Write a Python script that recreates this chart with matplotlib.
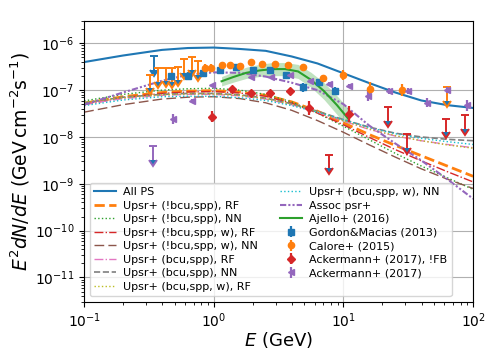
import numpy as np
import matplotlib
matplotlib.use("Agg")
import matplotlib.pyplot as plt
from matplotlib.ticker import LogLocator, NullFormatter

# ---- model curves: log10(E^2 dN/dE) read at log10(E/GeV) grid ----
log_e_grid = [-1.0, -0.7, -0.4, -0.2, 0.0, 0.2, 0.4, 0.6, 0.8, 1.0, 1.2, 1.4, 1.6, 1.8, 2.0]

all_ps        = [-6.40, -6.26, -6.14, -6.10, -6.09, -6.12, -6.16, -6.28, -6.43, -6.64, -6.85, -7.05, -7.22, -7.32, -7.38]
nbcu_rf       = [-7.28, -7.14, -7.05, -7.02, -7.01, -7.04, -7.11, -7.25, -7.45, -7.70, -7.95, -8.18, -8.40, -8.62, -8.84]
nbcu_nn       = [-7.23, -7.09, -7.00, -6.97, -6.96, -7.00, -7.09, -7.25, -7.49, -7.77, -8.06, -8.35, -8.62, -8.87, -9.12]
nbcu_w_rf     = [-7.31, -7.16, -7.07, -7.04, -7.03, -7.06, -7.13, -7.28, -7.49, -7.74, -8.01, -8.27, -8.51, -8.74, -8.96]
nbcu_w_nn     = [-7.47, -7.31, -7.19, -7.15, -7.14, -7.18, -7.27, -7.43, -7.65, -7.90, -8.17, -8.43, -8.68, -8.90, -9.10]
bcu_rf        = [-7.30, -7.18, -7.11, -7.09, -7.09, -7.12, -7.19, -7.31, -7.47, -7.66, -7.84, -7.98, -8.08, -8.16, -8.23]
bcu_nn        = [-7.27, -7.15, -7.09, -7.07, -7.07, -7.10, -7.17, -7.29, -7.45, -7.63, -7.79, -7.92, -8.00, -8.05, -8.08]
bcu_w_rf      = [-7.26, -7.16, -7.10, -7.08, -7.08, -7.11, -7.18, -7.30, -7.46, -7.65, -7.83, -7.97, -8.08, -8.17, -8.24]
bcu_w_nn      = [-7.33, -7.21, -7.14, -7.13, -7.13, -7.16, -7.22, -7.33, -7.47, -7.63, -7.80, -7.93, -8.03, -8.10, -8.16]
assoc_psr     = [-7.31, -7.05, -6.80, -6.67, -6.62, -6.63, -6.71, -6.84, -7.00, -7.30, -7.76, -8.14, -8.50, -8.90, -9.32]

# Ajello+ (2016) line and band
ajello_log_e  = [0.06, 0.15, 0.25, 0.35, 0.45, 0.55, 0.65, 0.75, 0.85, 0.95, 1.04]
ajello_mid    = [-6.81, -6.72, -6.63, -6.58, -6.55, -6.55, -6.60, -6.78, -7.02, -7.32, -7.62]
ajello_halfw  = [0.10, 0.11, 0.12, 0.13, 0.14, 0.14, 0.15, 0.16, 0.18, 0.20, 0.22]

# ---- data points: log10 E, log10 flux, error in dex ----
gordon_log_e  = [-0.33, -0.20, -0.08, 0.05, 0.175, 0.30, 0.433, 0.56, 0.69, 0.81, 0.936]
gordon_log_f  = [-6.69, -6.69, -6.64, -6.58, -6.51, -6.58, -6.56, -6.68, -6.94, -6.83, -7.02]
gordon_err    = [0.06, 0.07, 0.06, 0.05, 0.04, 0.04, 0.04, 0.05, 0.09, 0.06, 0.08]
gordon_ul_e   = [-0.46]
gordon_ul_f   = [-6.27]

calore_log_e  = [-0.07, -0.018, 0.06, 0.124, 0.20, 0.29, 0.37, 0.47, 0.575, 0.69, 0.845, 1.0, 1.205, 1.45]
calore_log_f  = [-6.52, -6.52, -6.47, -6.47, -6.49, -6.40, -6.45, -6.44, -6.46, -6.50, -6.74, -6.68, -6.98, -6.99]
calore_err    = [0.07, 0.07, 0.06, 0.05, 0.05, 0.05, 0.05, 0.05, 0.05, 0.06, 0.07, 0.10, 0.16, 0.13]
calore_ul_e   = [-0.495, -0.43, -0.37, -0.32, -0.275, -0.23, -0.17, -0.12, 1.80]
calore_ul_f   = [-6.67, -6.53, -6.52, -6.53, -6.50, -6.34, -6.29, -6.38, -6.94]

ack_fb_log_e  = [-0.015, 0.137, 0.285, 0.435, 0.588, 0.737, 1.04]
ack_fb_log_f  = [-7.57, -6.97, -7.06, -7.06, -7.02, -7.38, -7.50]
ack_fb_err    = [0.12, 0.04, 0.04, 0.04, 0.04, 0.15, 0.17]
ack_fb_ul_e   = [0.89, 1.34, 1.49, 1.79, 1.94]
ack_fb_ul_f   = [-8.38, -7.37, -7.94, -7.61, -7.53]

ack_log_e     = [-0.315, -0.168, -0.015, 0.285, 0.438, 0.588, 0.74, 0.885, 1.04, 1.19, 1.35, 1.50, 1.645, 1.80, 1.95]
ack_log_f     = [-7.62, -7.23, -6.90, -6.72, -6.72, -6.68, -6.80, -6.86, -6.91, -7.12, -7.02, -7.02, -7.27, -7.00, -7.32]
ack_err       = [0.10, 0.04, 0.04, 0.03, 0.03, 0.03, 0.04, 0.04, 0.05, 0.12, 0.06, 0.06, 0.10, 0.07, 0.12]
ack_ul_e      = [-0.47]
ack_ul_f      = [-8.20]

x_ticks = [0.1, 1, 10, 100]
y_ticks = [1e-11, 1e-10, 1e-9, 1e-8, 1e-7, 1e-6]

UL_ARROW_DEX = 0.29


def p10(v):
    return 10.0 ** np.asarray(v, dtype=float)


def points(ax, le, lf, err, fmt, color, label, ms=4.5):
    e, f, d = p10(le), p10(lf), np.asarray(err)
    yerr = [f - f * 10 ** -d, f * 10 ** d - f]
    ax.errorbar(e, f, yerr=yerr, fmt=fmt, color=color, ms=ms,
                elinewidth=1.6, capsize=0, label=label)


def upper_limits(ax, le, lf, color):
    e, f = p10(le), p10(lf)
    ax.errorbar(e, f, yerr=f * (1 - 10 ** -UL_ARROW_DEX), uplims=True,
                fmt="none", ecolor=color, elinewidth=1.4, capsize=3, capthick=1.4)


fig = plt.figure(figsize=(4.98, 3.56), dpi=100)
ax = fig.add_axes([0.169, 0.152, 0.781, 0.789])

E = p10(log_e_grid)
ax.plot(E, p10(all_ps), color="C0", lw=1.5, label="All PS")
ax.plot(E, p10(nbcu_rf), color="C1", ls="--", lw=2, label="Upsr+ (!bcu,spp), RF")
ax.plot(E, p10(nbcu_nn), color="C2", ls=":", lw=1, label="Upsr+ (!bcu,spp), NN")
ax.plot(E, p10(nbcu_w_rf), color="C3", ls="-.", lw=1, label="Upsr+ (!bcu,spp, w), RF")
ax.plot(E, p10(nbcu_w_nn), color="C5", ls=(0, (7, 3)), lw=1, label="Upsr+ (!bcu,spp, w), NN")
ax.plot(E, p10(bcu_rf), color="C6", ls="-.", lw=1, label="Upsr+ (bcu,spp), RF")
ax.plot(E, p10(bcu_nn), color="C7", ls="--", lw=1.2, label="Upsr+ (bcu,spp), NN")
ax.plot(E, p10(bcu_w_rf), color="C8", ls=":", lw=1, label="Upsr+ (bcu,spp, w), RF")
ax.plot(E, p10(bcu_w_nn), color="C9", ls=":", lw=1, label="Upsr+ (bcu,spp, w), NN")
ax.plot(E, p10(assoc_psr), color="C4", ls=(0, (3, 1, 1, 1, 1, 1)), lw=1.5, label="Assoc psr+")

ea = p10(ajello_log_e)
mid = np.asarray(ajello_mid)
hw = np.asarray(ajello_halfw)
ax.fill_between(ea, p10(mid - hw), p10(mid + hw), color="C2", alpha=0.3, lw=0)
ax.plot(ea, p10(mid), color="C2", lw=1.5, label="Ajello+ (2016)")

points(ax, gordon_log_e, gordon_log_f, gordon_err, "s", "C0", "Gordon&Macias (2013)")
upper_limits(ax, gordon_ul_e, gordon_ul_f, "C0")
points(ax, calore_log_e, calore_log_f, calore_err, "o", "C1", "Calore+ (2015)")
upper_limits(ax, calore_ul_e, calore_ul_f, "C1")
points(ax, ack_fb_log_e, ack_fb_log_f, ack_fb_err, "D", "C3", "Ackermann+ (2017), !FB", ms=4)
upper_limits(ax, ack_fb_ul_e, ack_fb_ul_f, "C3")
points(ax, ack_log_e, ack_log_f, ack_err, "<", "C4", "Ackermann+ (2017)")
upper_limits(ax, ack_ul_e, ack_ul_f, "C4")

ax.set_xscale("log")
ax.set_yscale("log")
ax.set_xlim(0.1, 100)
ax.set_ylim(3e-12, 3e-6)
ax.set_xticks(x_ticks)
ax.set_yticks(y_ticks)
ax.yaxis.set_minor_locator(LogLocator(base=10, subs=np.arange(2, 10), numticks=100))
ax.yaxis.set_minor_formatter(NullFormatter())
ax.xaxis.set_minor_formatter(NullFormatter())
ax.tick_params(labelsize=10)
ax.grid(True, which="major", color="#b0b0b0", lw=0.8)

ax.set_xlabel(r"$E$ (GeV)", fontsize=13, labelpad=0)
ax.set_ylabel(r"$E^2dN/dE$ (GeV$\,$cm$^{-2}$s$^{-1}$)", fontsize=13.5)
ax.yaxis.set_label_coords(-0.135, 0.5)

ax.legend(ncol=2, loc="lower left", fontsize=8, labelspacing=0.32,
          handletextpad=0.6, framealpha=0.8)

fig.savefig("out.png", dpi=100)
